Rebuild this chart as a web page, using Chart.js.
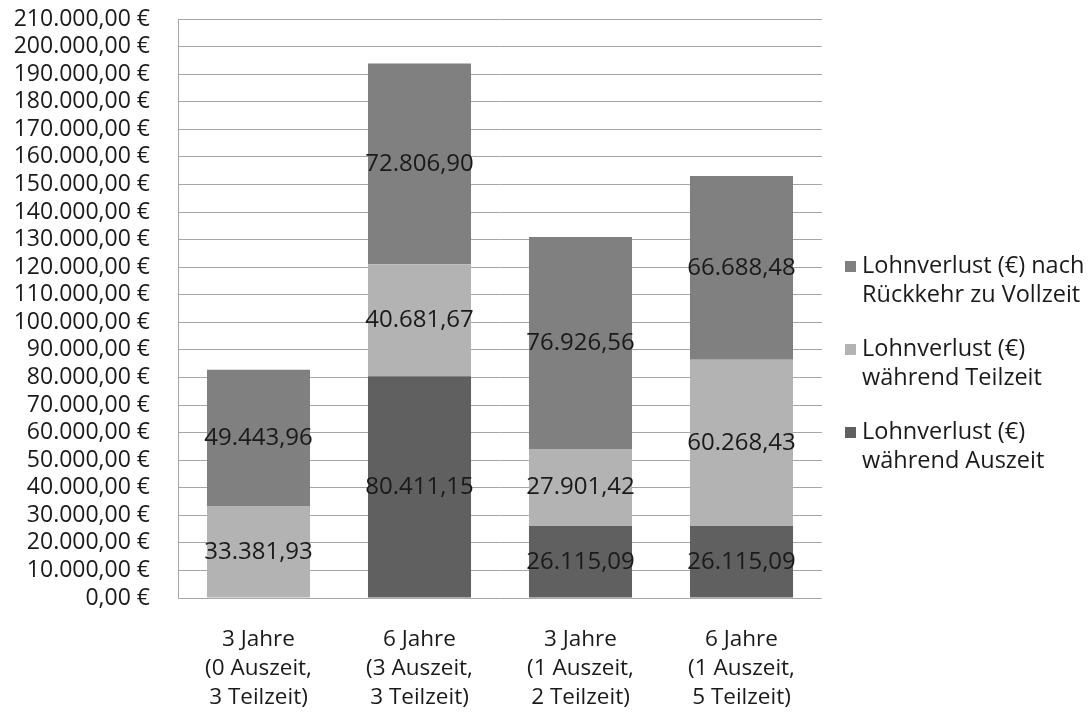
<!DOCTYPE html>
<html>
<head>
<meta charset="utf-8">
<script src="https://cdn.jsdelivr.net/npm/chart.js@4.4.0/dist/chart.umd.min.js"></script>
<style>
    html, body { margin: 0; padding: 0; background: #ffffff; }
    #wrap { width: 1091px; height: 720px; }
</style>
</head>
<body>
<div id="wrap"><canvas id="lohnChart" width="1091" height="720"></canvas></div>
<script>
// Kategorien (x-Achse, mehrzeilig)
const kategorien = [
    ['3 Jahre', '(0 Auszeit,', '3 Teilzeit)'],
    ['6 Jahre', '(3 Auszeit,', '3 Teilzeit)'],
    ['3 Jahre', '(1 Auszeit,', '2 Teilzeit)'],
    ['6 Jahre', '(1 Auszeit,', '5 Teilzeit)']
];

// Werte je Serie (von unten nach oben gestapelt)
const auszeit = [0, 80411.15, 26115.09, 26115.09];
const teilzeit = [33381.93, 40681.67, 27901.42, 60268.43];
const vollzeit = [49443.96, 72806.90, 76926.56, 66688.48];

// Legendentexte
const legendeAuszeit = ['Lohnverlust (€)', 'während Auszeit'];
const legendeTeilzeit = ['Lohnverlust (€)', 'während Teilzeit'];
const legendeVollzeit = ['Lohnverlust (€) nach', 'Rückkehr zu Vollzeit'];

const yMax = 210000;
const ySchritt = 10000;

const schrift = "'Open Sans', 'DejaVu Sans', sans-serif";
const textFarbe = '#1a1a1a';
const gitterFarbe = '#a6a6a6';

// Zahl im deutschen Format: 12.345,67
function formatDE(wert) {
    const teile = wert.toFixed(2).split('.');
    const ganz = teile[0].replace(/\B(?=(\d{3})+(?!\d))/g, '.');
    return ganz + ',' + teile[1];
}

// Werte mittig in die Segmente schreiben
const wertePlugin = {
    id: 'werteBeschriftung',
    afterDatasetsDraw(chart) {
        const ctx = chart.ctx;
        ctx.save();
        ctx.font = '24px ' + schrift;
        ctx.fillStyle = textFarbe;
        ctx.textAlign = 'center';
        ctx.textBaseline = 'middle';
        chart.data.datasets.forEach((ds, i) => {
            const meta = chart.getDatasetMeta(i);
            meta.data.forEach((bar, j) => {
                const wert = ds.data[j];
                if (!wert) return;
                const mitte = (bar.y + bar.base) / 2;
                ctx.fillText(formatDE(wert), bar.x, mitte);
            });
        });
        ctx.restore();
    }
};

// Legende rechts, in umgekehrter Reihenfolge, mit Zeilenumbruch
const legendePlugin = {
    id: 'legendeRechts',
    afterDraw(chart) {
        const ctx = chart.ctx;
        const area = chart.chartArea;
        const xBox = area.right + 23;
        const xText = area.right + 40;
        let y = 266;
        ctx.save();
        ctx.font = '23.5px ' + schrift;
        ctx.textAlign = 'left';
        ctx.textBaseline = 'middle';
        const datasets = chart.data.datasets.slice().reverse();
        datasets.forEach(ds => {
            ctx.fillStyle = ds.backgroundColor;
            ctx.fillRect(xBox, y - 5, 11, 11);
            ctx.fillStyle = textFarbe;
            ds.legendeZeilen.forEach((zeile, k) => {
                ctx.fillText(zeile, xText, y + k * 29);
            });
            y += 83;
        });
        ctx.restore();
    }
};

const ctx = document.getElementById('lohnChart');

new Chart(ctx, {
    type: 'bar',
    data: {
        labels: kategorien,
        datasets: [
            {
                label: legendeAuszeit.join(' '),
                legendeZeilen: legendeAuszeit,
                data: auszeit,
                backgroundColor: '#606060'
            },
            {
                label: legendeTeilzeit.join(' '),
                legendeZeilen: legendeTeilzeit,
                data: teilzeit,
                backgroundColor: '#b3b3b3'
            },
            {
                label: legendeVollzeit.join(' '),
                legendeZeilen: legendeVollzeit,
                data: vollzeit,
                backgroundColor: '#808080'
            }
        ]
    },
    options: {
        responsive: false,
        animation: false,
        layout: {
            padding: { top: 19, right: 269, left: 0, bottom: 0 }
        },
        datasets: {
            bar: {
                barPercentage: 0.64,
                categoryPercentage: 1.0,
                borderWidth: 0
            }
        },
        plugins: {
            legend: { display: false },
            tooltip: { enabled: false }
        },
        scales: {
            x: {
                stacked: true,
                grid: { display: false, drawTicks: false },
                border: { display: false },
                ticks: {
                    color: textFarbe,
                    font: { family: schrift, size: 22.5, lineHeight: 1.29 },
                    padding: 27,
                    maxRotation: 0,
                    autoSkip: false
                },
                afterFit(scale) { scale.height = 122; }
            },
            y: {
                stacked: true,
                min: 0,
                max: yMax,
                grid: {
                    color: gitterFarbe,
                    lineWidth: 1,
                    drawTicks: true,
                    tickLength: 26,
                    tickColor: 'rgba(0,0,0,0)'
                },
                border: { display: true, color: gitterFarbe, width: 1 },
                ticks: {
                    stepSize: ySchritt,
                    autoSkip: false,
                    color: textFarbe,
                    font: { family: schrift, size: 23 },
                    padding: 2,
                    callback: value => formatDE(value) + ' €'
                },
                afterFit(scale) { scale.width = 178; }
            }
        }
    },
    plugins: [wertePlugin, legendePlugin]
});
</script>
</body>
</html>
